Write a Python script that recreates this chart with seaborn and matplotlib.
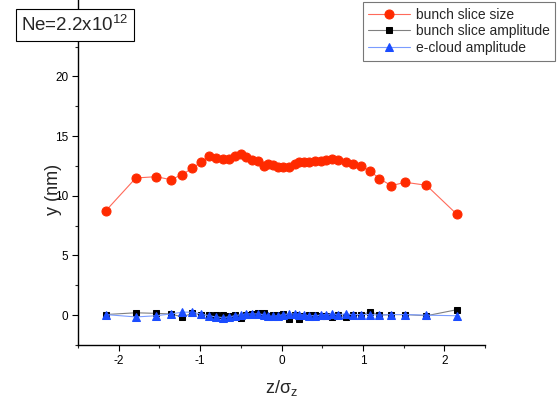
import numpy as np
import pandas as pd
import matplotlib
matplotlib.use("Agg")
import matplotlib.pyplot as plt
import seaborn as sns

z = [-2.16, -1.79, -1.54, -1.36, -1.22, -1.10, -0.99, -0.89, -0.80, -0.72,
     -0.65, -0.57, -0.50, -0.43, -0.36, -0.29, -0.22, -0.16, -0.10, -0.04,
     0.02, 0.09, 0.16, 0.22, 0.28, 0.34, 0.41, 0.48, 0.55, 0.62,
     0.70, 0.79, 0.88, 0.98, 1.09, 1.20, 1.35, 1.52, 1.78, 2.15]

slice_size = [8.73, 11.49, 11.6, 11.35, 11.77, 12.3, 12.8, 13.3, 13.16, 13.1,
              13.1, 13.3, 13.47, 13.25, 13.03, 12.9, 12.47, 12.64, 12.6, 12.4,
              12.4, 12.4, 12.64, 12.8, 12.86, 12.83, 12.9, 12.9, 12.97, 13.05,
              13.03, 12.86, 12.69, 12.47, 12.08, 11.44, 10.85, 11.13, 10.88, 8.48]

slice_amp = [0.05, 0.2, 0.15, 0.1, -0.15, 0.15, 0.05, 0.0, 0.05, 0.0,
             -0.05, 0.05, -0.25, 0.05, 0.1, 0.15, 0.2, -0.1, 0.0, 0.05,
             0.1, -0.3, 0.0, -0.35, -0.1, 0.05, 0.0, -0.05, -0.05, -0.15,
             0.0, -0.15, 0.0, 0.0, 0.3, 0.0, 0.05, 0.05, -0.05, 0.45]

cloud_amp = [0.05, -0.15, -0.05, 0.1, 0.25, 0.25, 0.1, -0.05, -0.15, -0.2,
             -0.15, -0.05, 0.05, 0.1, 0.1, 0.1, 0.05, -0.1, -0.1, -0.05,
             0.05, 0.1, 0.1, 0.05, 0.0, -0.05, -0.05, 0.0, 0.05, 0.1,
             0.05, 0.1, 0.05, 0.05, 0.05, 0.0, 0.05, 0.05, 0.0, -0.05]

labels = ["bunch slice size", "bunch slice amplitude", "e-cloud amplitude"]

sns.set_style("ticks")
plt.rcParams["font.family"] = ["Liberation Sans", "DejaVu Sans"]
plt.rcParams["axes.unicode_minus"] = False

fig = plt.figure(figsize=(5.58, 4.03), dpi=100)
ax = fig.add_axes([78/558, 58/403, 407/558, 345/403])

df = pd.DataFrame({"z": z, "size": slice_size, "amp": slice_amp, "cloud": cloud_amp})

sns.lineplot(data=df, x="z", y="size", ax=ax, sort=False, color="#ff6a5a", linewidth=0.8,
             marker="o", markersize=6.5, markerfacecolor="#ff2a00", markeredgecolor="#ff2a00",
             label=labels[0])
sns.lineplot(data=df, x="z", y="amp", ax=ax, sort=False, color="#808080", linewidth=0.8,
             marker="s", markersize=5, markerfacecolor="black", markeredgecolor="black",
             label=labels[1])
sns.lineplot(data=df, x="z", y="cloud", ax=ax, sort=False, color="#7a9cff", linewidth=0.8,
             marker="^", markersize=6, markerfacecolor="#1a4cff", markeredgecolor="#1a4cff",
             label=labels[2])

ax.set_xlim(-2.5, 2.5)
ax.set_ylim(-2.5, 26.4)
ax.set_xticks([-2, -1, 0, 1, 2])
ax.set_xticks(np.arange(-2.5, 2.51, 0.5), minor=True)
ax.set_yticks([0, 5, 10, 15, 20])
ax.set_yticks(np.arange(-2.5, 26, 2.5), minor=True)
ax.tick_params(axis="both", which="major", direction="out", length=4, width=0.8,
               labelsize=8.5, colors="black", pad=3)
ax.tick_params(axis="both", which="minor", direction="out", length=2.5, width=0.8)
for s in ["top", "right"]:
    ax.spines[s].set_visible(False)
for s in ["left", "bottom"]:
    ax.spines[s].set_linewidth(1.0)
    ax.spines[s].set_color("black")

ax.set_xlabel(r"z/$\mathregular{\sigma_z}$", fontsize=13)
ax.set_ylabel("y (nm)", fontsize=13)
ax.xaxis.set_label_coords(0.5, -0.095)
ax.yaxis.set_label_coords(-0.04, 0.45)

leg = ax.legend(loc="upper right", bbox_to_anchor=(555/558, 1 - 2/403),
                bbox_transform=fig.transFigure, fontsize=10, frameon=True,
                fancybox=False, edgecolor="#555555", handlelength=3.0,
                borderpad=0.4, labelspacing=0.2, handletextpad=0.4, borderaxespad=0)
leg.get_frame().set_linewidth(0.8)

fig.text(75/558, 1 - 25/403, r"Ne=2.2x10$\mathregular{^{12}}$", fontsize=13.5,
         ha="center", va="center",
         bbox=dict(boxstyle="square,pad=0.3", facecolor="white", edgecolor="black", linewidth=0.8))

fig.savefig("out.png", dpi=100)
